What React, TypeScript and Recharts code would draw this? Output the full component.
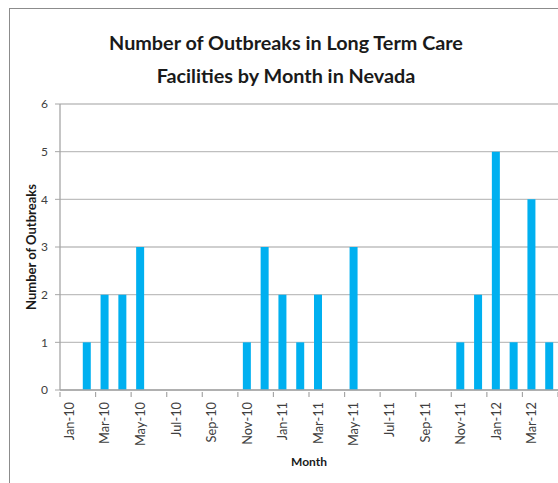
import React from "react";
import {
  BarChart, Bar, XAxis, YAxis, CartesianGrid, Label,
} from "recharts";

const months = [
  "Jan-10", "Feb-10", "Mar-10", "Apr-10", "May-10", "Jun-10", "Jul-10",
  "Aug-10", "Sep-10", "Oct-10", "Nov-10", "Dec-10", "Jan-11", "Feb-11",
  "Mar-11", "Apr-11", "May-11", "Jun-11", "Jul-11", "Aug-11", "Sep-11",
  "Oct-11", "Nov-11", "Dec-11", "Jan-12", "Feb-12", "Mar-12", "Apr-12",
];
const outbreaks = [
  0, 1, 2, 2, 3, 0, 0, 0, 0, 0, 1, 3, 2, 1,
  2, 0, 3, 0, 0, 0, 0, 0, 1, 2, 5, 1, 4, 1,
];
const yTicks = [0, 1, 2, 3, 4, 5, 6];

const data = months.map((m, i) => ({ month: m, count: outbreaks[i] }));

const W = 558;
const H = 483;
const FONT = "Lato, 'Open Sans', sans-serif";
const AXIS_GREY = "#a6a6a6";

function MonthTick(props: any) {
  const { x, y, payload, index } = props;
  const half = payload && payload.offset ? payload.offset : (W - 60) / months.length / 2;
  const last = index === months.length - 1;
  return (
    <g>
      {index % 2 === 0 && (
        <line x1={x - half} x2={x - half} y1={y - 8} y2={y - 3} stroke={AXIS_GREY} strokeWidth={1.2} />
      )}
      {last && (
        <line x1={x + half} x2={x + half} y1={y - 8} y2={y - 3} stroke={AXIS_GREY} strokeWidth={1.2} />
      )}
      {index % 2 === 0 && (
        <text
          x={x}
          y={y + 2}
          transform={`rotate(-90, ${x}, ${y + 2})`}
          textAnchor="end"
          dominantBaseline="central"
          fontFamily={FONT}
          fontSize={12.8}
          fill="#404040"
        >
          {payload.value}
        </text>
      )}
    </g>
  );
}

export default function App() {
  return (
    <div style={{ position: "absolute", left: 0, top: 0, width: W, height: H, background: "#fff", overflow: "hidden" }}>
      <div
        style={{
          position: "absolute", left: 9, top: 8, right: -10, bottom: -10,
          borderLeft: "1.5px solid #8c8c8c", borderTop: "1.5px solid #8c8c8c",
        }}
      />
      <div
        style={{
          position: "absolute", left: 0, top: 26, width: 572, textAlign: "center",
          fontFamily: FONT, fontWeight: 700, fontSize: 19.8, lineHeight: "33px", color: "#1a1a1a",
        }}
      >
        Number of Outbreaks in Long Term Care
        <br />
        Facilities by Month in Nevada
      </div>
      <div style={{ position: "absolute", left: 0, top: 0 }}>
        <BarChart width={W} height={H} data={data} margin={{ top: 104, right: 0, bottom: 0, left: 0 }} barSize={8}>
          <CartesianGrid vertical={false} stroke="#bfbfbf" strokeWidth={1.3} />
          <XAxis
            dataKey="month"
            interval={0}
            height={93}
            tickLine={false}
            tickSize={8}
            axisLine={{ stroke: AXIS_GREY, strokeWidth: 1.3 }}
            tick={<MonthTick />}
          >
            <Label
              content={(p: any) => {
                const vb = p.viewBox;
                return (
                  <text x={vb.x + vb.width / 2} y={vb.y + 76} textAnchor="middle"
                    fontFamily={FONT} fontWeight={700} fontSize={12} fill="#1a1a1a">
                    Month
                  </text>
                );
              }}
            />
          </XAxis>
          <YAxis
            width={60}
            domain={[0, 6]}
            ticks={yTicks}
            interval={0}
            tickSize={5}
            tickMargin={7}
            tickLine={{ stroke: AXIS_GREY }}
            axisLine={{ stroke: AXIS_GREY, strokeWidth: 1.3 }}
            tick={{ fontFamily: FONT, fontSize: 12, fill: "#404040" }}
          >
            <Label
              content={(p: any) => {
                const vb = p.viewBox;
                const cx = 31;
                const cy = vb.y + vb.height / 2;
                return (
                  <text x={cx} y={cy} transform={`rotate(-90, ${cx}, ${cy})`} textAnchor="middle"
                    dominantBaseline="central" fontFamily={FONT} fontWeight={700} fontSize={13} fill="#1a1a1a">
                    Number of Outbreaks
                  </text>
                );
              }}
            />
          </YAxis>
          <Bar dataKey="count" fill="#00b0f0" isAnimationActive={false} />
        </BarChart>
      </div>
    </div>
  );
}
